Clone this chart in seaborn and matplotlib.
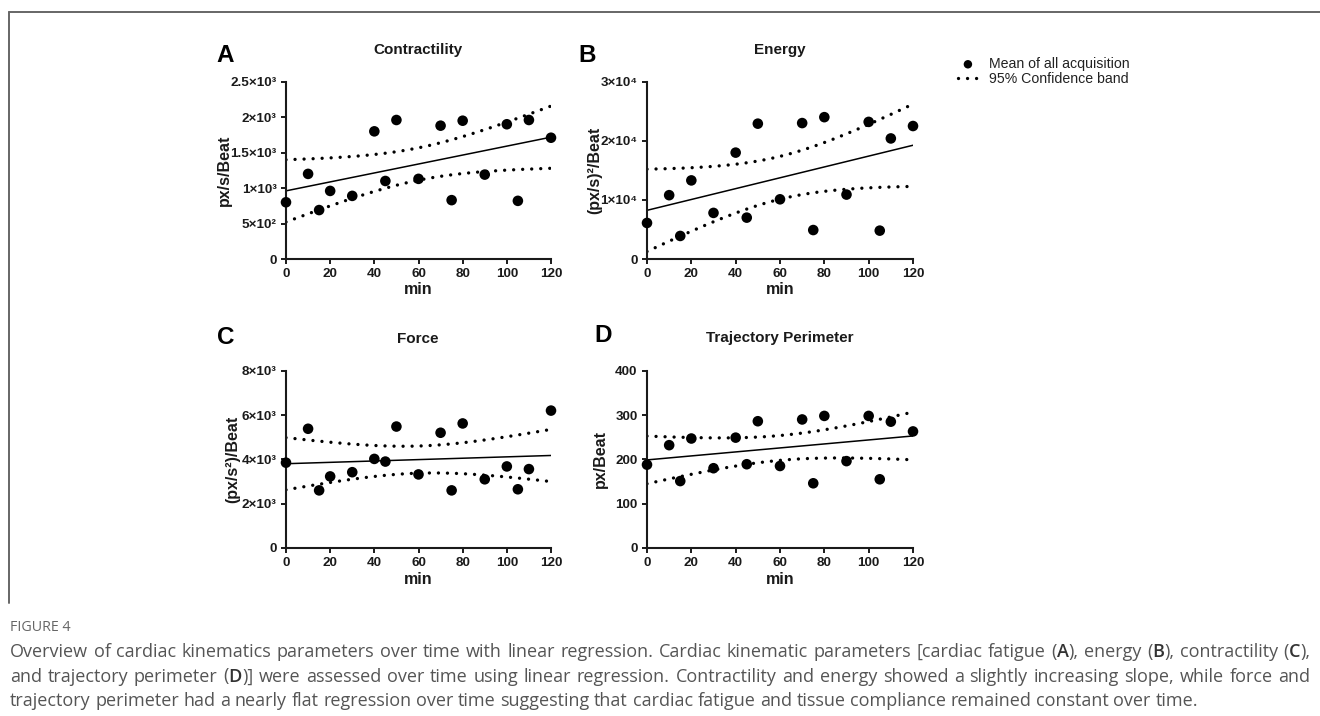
import re
import numpy as np
import pandas as pd
import matplotlib
matplotlib.use("Agg")
import matplotlib.pyplot as plt
import seaborn as sns
from matplotlib.lines import Line2D

# ---------------- data ----------------
minutes = [0, 10, 15, 20, 30, 40, 45, 50, 60, 70, 75, 80, 90, 100, 105, 110, 120]
contractility = [800, 1200, 690, 960, 890, 1800, 1100, 1960, 1130, 1880, 830, 1950, 1190, 1900, 820, 1960, 1710]
energy = [6100, 10800, 3900, 13300, 7800, 18000, 7000, 22900, 10100, 23000, 4900, 24000, 10900, 23200, 4800, 20400, 22500]
force = [3850, 5380, 2600, 3230, 3420, 4020, 3900, 5480, 3320, 5200, 2600, 5620, 3100, 3680, 2650, 3560, 6200]
perimeter = [188, 232, 151, 247, 180, 249, 189, 286, 185, 290, 146, 298, 196, 298, 155, 285, 263]

panel_letters = ["A", "B", "C", "D"]
panel_titles = ["Contractility", "Energy", "Force", "Trajectory Perimeter"]
y_labels = ["px/s/Beat", "(px/s)²/Beat", "(px/s²)/Beat", "px/Beat"]
x_label = "min"
x_ticks = [0, 20, 40, 60, 80, 100, 120]
y_ticks_A = [0, 500, 1000, 1500, 2000, 2500]
y_ticklabels_A = ["0", "5×10²", "1×10³", "1.5×10³", "2×10³", "2.5×10³"]
y_ticks_B = [0, 10000, 20000, 30000]
y_ticklabels_B = ["0", "1×10⁴", "2×10⁴", "3×10⁴"]
y_ticks_C = [0, 2000, 4000, 6000, 8000]
y_ticklabels_C = ["0", "2×10³", "4×10³", "6×10³", "8×10³"]
y_ticks_D = [0, 100, 200, 300, 400]
y_ticklabels_D = ["0", "100", "200", "300", "400"]
legend_labels = ["Mean of all acquisition", "95% Confidence band"]
caption_head = "FIGURE 4"
caption_lines = [
    "Overview of cardiac kinematics parameters over time with linear regression. Cardiac kinematic parameters [cardiac fatigue (A), energy (B), contractility (C),",
    "and trajectory perimeter (D)] were assessed over time using linear regression. Contractility and energy showed a slightly increasing slope, while force and",
    "trajectory perimeter had a nearly flat regression over time suggesting that cardiac fatigue and tissue compliance remained constant over time.",
]
T_CRIT = 2.131  # t(0.975, df=15)

# ---------------- style ----------------
sns.set_style("ticks")
plt.rcParams["font.family"] = ["Liberation Sans", "DejaVu Sans"]
plt.rcParams["axes.linewidth"] = 1.5

W, H = 1320, 716
fig = plt.figure(figsize=(W / 100, H / 100), dpi=100)
fx = lambda px: px / W
fy = lambda py: 1 - py / H

def rect(l, r, t, b):
    return [fx(l), fy(b), (r - l) / W, (b - t) / H]

rects = [rect(286, 551, 81.7, 259), rect(647, 913, 81.7, 259),
         rect(286, 551, 370.7, 548), rect(647, 913, 370.7, 548)]
series = [contractility, energy, force, perimeter]
yticks = [y_ticks_A, y_ticks_B, y_ticks_C, y_ticks_D]
yticklabels = [y_ticklabels_A, y_ticklabels_B, y_ticklabels_C, y_ticklabels_D]
ylab_x = [224, 595, 233, 600]
letter_pos = [(225, 55), (587, 55), (226, 337), (603, 336)]
title_pos = [(418, 50), (780, 50), (418, 339), (780, 338)]

dot_style = (0, (0.01, 2.7))
ink = "#1a1a1a"
legend_handles = None

for i in range(4):
    ax = fig.add_axes(rects[i])
    x = np.asarray(minutes, float)
    y = np.asarray(series[i], float)
    df = pd.DataFrame({"min": x, "val": y})

    # linear regression and 95% confidence band of the mean
    slope, intercept = np.polyfit(x, y, 1)
    xg = np.linspace(0, 120, 200)
    fit = intercept + slope * xg
    resid = y - (intercept + slope * x)
    s = np.sqrt(np.sum(resid ** 2) / (len(x) - 2))
    sxx = np.sum((x - x.mean()) ** 2)
    half = T_CRIT * s * np.sqrt(1 / len(x) + (xg - x.mean()) ** 2 / sxx)
    fitdf = pd.DataFrame({"min": xg, "fit": fit, "lo": fit - half, "hi": fit + half})

    sns.lineplot(data=fitdf, x="min", y="fit", ax=ax, color="black", lw=1.1,
                 estimator=None, sort=False)
    sns.lineplot(data=fitdf, x="min", y="hi", ax=ax, color="black", lw=2.4,
                 estimator=None, sort=False, linestyle=dot_style, dash_capstyle="round")
    sns.lineplot(data=fitdf, x="min", y="lo", ax=ax, color="black", lw=2.4,
                 estimator=None, sort=False, linestyle=dot_style, dash_capstyle="round")
    sns.scatterplot(data=df, x="min", y="val", ax=ax, color="black", s=58,
                    edgecolor="none", clip_on=False, zorder=4)

    ax.set_xlim(0, 120)
    ax.set_ylim(0, yticks[i][-1])
    sns.despine(ax=ax)
    for sp in ["left", "bottom"]:
        ax.spines[sp].set_color(ink)
        ax.spines[sp].set_linewidth(1.5)
    ax.tick_params(direction="out", length=3.8, width=1.4, color=ink, pad=3)
    ax.set_xticks(x_ticks)
    ax.set_xticklabels([str(t) for t in x_ticks], fontsize=9.7, fontweight="bold", color=ink)
    ax.set_yticks(yticks[i])
    ax.set_yticklabels(yticklabels[i], fontsize=9.7, fontweight="bold", color=ink)

    ax.set_xlabel(x_label, fontsize=11.5, fontweight="bold", color=ink)
    ax.xaxis.set_label_coords(0.5, -(290 - 259) / 177.3)
    ax.xaxis.label.set_va("center")
    ax.set_ylabel(y_labels[i], fontsize=11.5, fontweight="bold", color=ink)
    l = rects[i][0] * W
    ax.yaxis.set_label_coords((ylab_x[i] - l) / (rects[i][2] * W), 0.5)
    ax.yaxis.label.set_va("center")
    ax.yaxis.label.set_ha("center")

    fig.text(fx(letter_pos[i][0]), fy(letter_pos[i][1]), panel_letters[i], fontsize=17.5,
             fontweight="bold", ha="center", va="center", color="black")
    fig.text(fx(title_pos[i][0]), fy(title_pos[i][1]), panel_titles[i], fontsize=11,
             fontweight="bold", ha="center", va="center", color=ink)

    if i == 0:
        band_line = ax.lines[1]
        legend_handles = [ax.collections[0], band_line]

fig.legend(handles=legend_handles, labels=legend_labels, loc="upper left",
           bbox_to_anchor=(fx(958), fy(57)), frameon=False, fontsize=10.2,
           borderpad=0, borderaxespad=0, handlelength=1.4, handletextpad=0.8,
           labelspacing=0.1, scatterpoints=1, markerscale=0.8, labelcolor="#222222")

# figure frame
fig.add_artist(Line2D([fx(9), fx(1320)], [fy(12), fy(12)], color="#666666", lw=1.4))
fig.add_artist(Line2D([fx(9), fx(9)], [fy(12), fy(603)], color="#666666", lw=1.4))

# ---------------- caption (justified, panel letters emphasised) ----------------
cap_font = ["Open Sans", "DejaVu Sans"]
cap_size = 12.95
renderer = fig.canvas.get_renderer()
plain_kw = dict(fontsize=cap_size, color="#555555", family=cap_font)
bold_kw = dict(fontsize=cap_size, color="#333333", family=cap_font, fontweight="semibold")

def width(s, kw):
    t = fig.text(0, 0, s, **kw)
    w = t.get_window_extent(renderer).width
    t.remove()
    return w

def segments(word):
    parts = re.split(r"(?<=\()([A-D])(?=\))", word)
    out = []
    for j, p in enumerate(parts):
        if p:
            out.append((p, bold_kw if j % 2 == 1 else plain_kw))
    return out

space_w = width("a a", plain_kw) - width("aa", plain_kw)
x_left, x_right = 10, 1310

fig.text(fx(10), fy(631), caption_head, fontsize=10.3, color="#666666", va="baseline",
         family=cap_font)
for k, line in enumerate(caption_lines):
    words = line.split(" ")
    segs = [segments(w) for w in words]
    wws = [sum(width(p, kw) for p, kw in sg) for sg in segs]
    last = k == len(caption_lines) - 1
    gap = space_w if last else (x_right - x_left - sum(wws)) / (len(words) - 1)
    xpos = x_left
    ybase = fy(657 + 24.5 * k)
    for sg, ww in zip(segs, wws):
        xx = xpos
        for p, kw in sg:
            fig.text(fx(xx), ybase, p, va="baseline", ha="left", **kw)
            xx += width(p, kw)
        xpos += ww + gap

fig.savefig("out.png", dpi=100)
